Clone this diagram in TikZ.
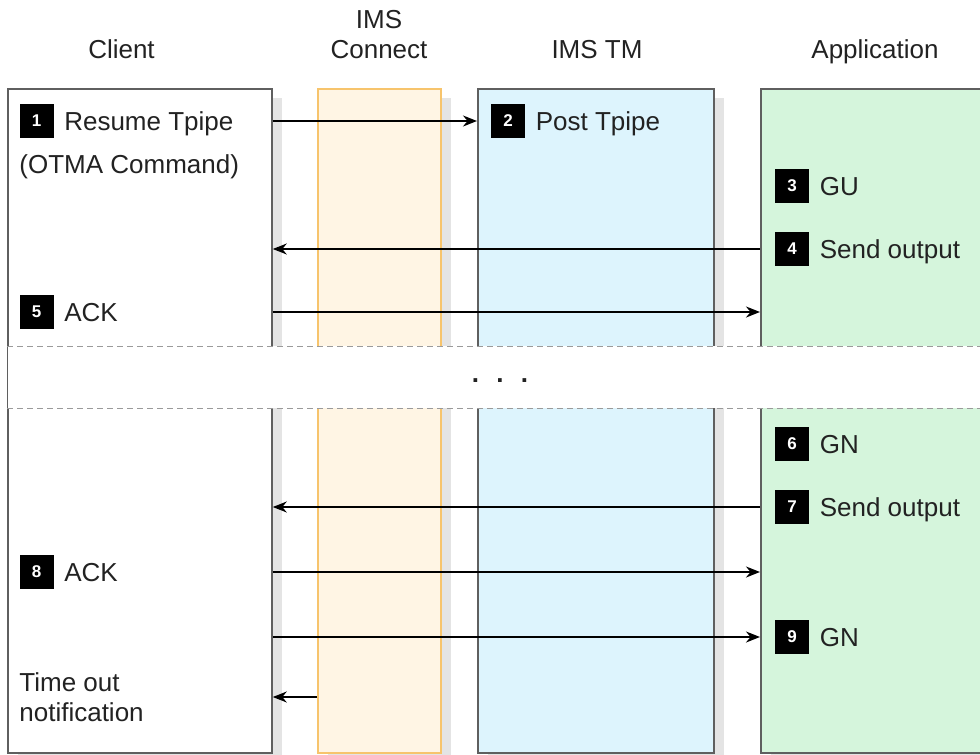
\documentclass[tikz,border=0pt]{standalone}
\usepackage{fontspec}
\setmainfont{Liberation Sans}
\usepackage{tikz}
\usetikzlibrary{arrows.meta, positioning, shadows}
\definecolor{BoxLine}{HTML}{5F5F5F}
\definecolor{ConnectLine}{HTML}{F7C46C}
\definecolor{ConnectFill}{HTML}{FFF5E4}
\definecolor{TMFill}{HTML}{DDF4FD}
\definecolor{AppFill}{HTML}{D5F5DC}
\definecolor{ShadowGray}{HTML}{E4E4E4}
\definecolor{Charcoal}{HTML}{222222}
\definecolor{DashGray}{HTML}{9A9A9A}

\begin{document}
\begin{tikzpicture}[x=0.5pt, y=-0.5pt,
    every node/.style={font=\fontsize{13}{15}\selectfont, text=Charcoal},
    lane/.style={draw=BoxLine, line width=0.9pt, anchor=north west, minimum height=332pt, inner sep=0pt,
        drop shadow={shadow xshift=5pt, shadow yshift=-4.5pt, fill=ShadowGray, opacity=1}},
    badge/.style={fill=black, text=white, minimum size=17pt, inner sep=0pt, font=\fontsize{8.5}{9}\selectfont\bfseries},
    lbl/.style={inner sep=0pt, text height=9.3pt, text depth=0pt},
    msg/.style={-{Stealth[length=7pt, width=5.5pt]}, line width=0.9pt, color=black},
    gap/.style={DashGray, line width=0.5pt, dash pattern=on 3pt off 2pt}]
    \useasboundingbox (0,0) rectangle (980,755);
    \clip (0,0) rectangle (980,755);

    \node[lane, fill=white, minimum width=132pt] (client) at (7,88) {};
    \node[lane, fill=ConnectFill, draw=ConnectLine, minimum width=61.5pt] (connect) at (317,88) {};
    \node[lane, fill=TMFill, minimum width=118pt] (tm) at (477,88) {};
    \node[lane, fill=AppFill, minimum width=130pt] (app) at (760,88) {};

    \node[anchor=base] (hclient) at (121.5,58) {Client};
    \node[anchor=base, align=center] (hconnect) at (379,58) {IMS\\Connect};
    \node[anchor=base] (htm) at (597,58) {IMS TM};
    \node[anchor=base] (happ) at (875,58) {Application};

    \node[badge] (b1) at (36.5,121) {1};
    \node[lbl, right=5pt of b1] (t1) {Resume Tpipe};
    \node[lbl, anchor=west] (t1b) at (19,164) {(OTMA Command)};
    \node[badge] (b2) at (508,121) {2};
    \node[lbl, right=5pt of b2] (t2) {Post Tpipe};
    \node[badge] (b3) at (792,186) {3};
    \node[lbl, right=5pt of b3] (t3) {GU};
    \node[badge] (b4) at (792,249) {4};
    \node[lbl, right=5pt of b4] (t4) {Send output};
    \node[badge] (b5) at (36.5,312) {5};
    \node[lbl, right=5pt of b5] (t5) {ACK};

    \fill[white] (8,346) rectangle (980,408);
    \draw[gap] (7,346) -- (980,346);
    \draw[gap] (7,408) -- (980,408);
    \node[anchor=base, font=\fontsize{13}{15}\selectfont\bfseries] (more) at (500,382) {.\hspace{8.6pt}.\hspace{8.6pt}.};

    \node[badge] (b6) at (792,444) {6};
    \node[lbl, right=5pt of b6] (t6) {GN};
    \node[badge] (b7) at (792,507) {7};
    \node[lbl, right=5pt of b7] (t7) {Send output};
    \node[badge] (b8) at (36.5,572) {8};
    \node[lbl, right=5pt of b8] (t8) {ACK};
    \node[badge] (b9) at (792,637) {9};
    \node[lbl, right=5pt of b9] (t9) {GN};
    \node[anchor=base west, align=left, inner sep=0pt] (tnote) at (19,721) {Time out\\notification};
    \coordinate (tmo) at (0,697);

    \draw[msg] (client.east |- b1) -- (tm.west |- b1);
    \draw[msg] (app.west |- b4) -- (client.east |- b4);
    \draw[msg] (client.east |- b5) -- (app.west |- b5);
    \draw[msg] (app.west |- b7) -- (client.east |- b7);
    \draw[msg] (client.east |- b8) -- (app.west |- b8);
    \draw[msg] (client.east |- b9) -- (app.west |- b9);
    \draw[msg] (connect.west |- tmo) -- (client.east |- tmo);
\end{tikzpicture}
\end{document}
